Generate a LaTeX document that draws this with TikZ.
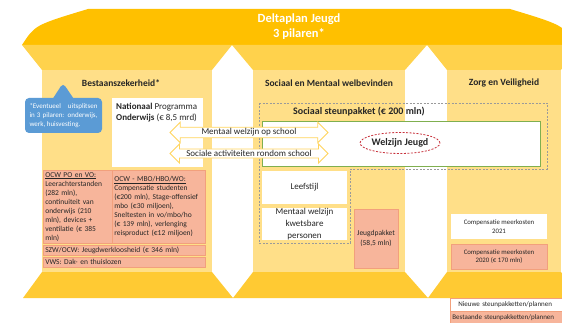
\documentclass[tikz,border=0pt]{standalone}
\usepackage{fontspec}
\setmainfont{Carlito}
\usetikzlibrary{shapes,shapes.arrows,shapes.callouts,shapes.geometric,positioning}
\definecolor{dak}{HTML}{FFC000}
\definecolor{balk}{HTML}{FFD24C}
\definecolor{zuil}{HTML}{FFDF88}
\definecolor{zuilrand}{HTML}{FFD45C}
\definecolor{voet}{HTML}{FFCA33}
\definecolor{zalm}{HTML}{F7B59B}
\definecolor{zalmrand}{HTML}{F2A07C}
\definecolor{blauw}{HTML}{5B9BD5}
\definecolor{groen}{HTML}{7FAF4F}
\definecolor{rood}{HTML}{C8323C}
\definecolor{grijs}{HTML}{9A9A9A}
\definecolor{tekst}{HTML}{262626}

\begin{document}
\begin{tikzpicture}[x=1pt,y=-1pt,
    titel/.style={font=\fontsize{12.5}{15}\selectfont\bfseries,text=white,align=center,inner sep=0pt},
    kop/.style={font=\fontsize{9.5}{11}\selectfont\bfseries,text=tekst,inner sep=0pt},
    ballon/.style={rectangle callout,fill=blauw,rounded corners=4pt,text=white,
        font=\fontsize{7}{9}\selectfont,align=justify,text width=68pt,minimum width=77pt,
        minimum height=35pt,inner sep=0pt,callout pointer width=20pt},
    vak/.style={fill=white,inner sep=0pt,text=tekst,align=center},
    bestaand/.style={fill=zalm,draw=zalmrand,line width=.6pt,inner sep=2pt,text=tekst,
        font=\fontsize{7.5}{9}\selectfont},
    pijl/.style={double arrow,double arrow head extend=5pt,fill=white,draw=zuilrand,
        line width=.8pt,inner xsep=0pt,inner ysep=1pt,font=\fontsize{9}{11}\selectfont,
        text=tekst,minimum height=158pt},
    stippel/.style={draw=grijs,dash pattern=on 2pt off 1.5pt,line width=.7pt},
    ovaal/.style={ellipse,draw=rood,dash pattern=on 2pt off 1.5pt,line width=.8pt,
        minimum width=75pt,minimum height=21pt,inner sep=0pt,
        font=\fontsize{10}{12}\selectfont\bfseries,text=tekst}]
  \useasboundingbox (0,0) rectangle (562,323);
  \begin{scope}
    \clip (0,0) rectangle (562,323);
    % dak, balk, zuilen en voet
    \fill[dak] (22,45) .. controls (35,25) .. (88,9) -- (510,9) .. controls (563,25) .. (576,45) -- cycle;
    \fill[balk] (22,45) -- (232,45) -- (212,70) -- (42,70) -- cycle;
    \fill[balk] (232,45) -- (427,45) -- (405,70) -- (253,70) -- cycle;
    \fill[balk] (427,45) -- (576,45) -- (561,70) -- (447,70) -- cycle;
    \fill[zuil] (42,70) rectangle (212,272);
    \fill[zuil] (253,70) rectangle (405,272);
    \fill[zuil] (447,70) rectangle (561,272);
    \fill[voet] (42,272) -- (212,272) -- (233,298) -- (23,298) -- cycle;
    \fill[voet] (253,272) -- (405,272) -- (428,298) -- (233,298) -- cycle;
    \fill[voet] (447,272) -- (561,272) -- (580,298) -- (428,298) -- cycle;

    \node[titel] (titel) at (299,27) {Deltaplan Jeugd\\3 pilaren*};
    \node[kop] (kopB) at (121,83) {Bestaanszekerheid*};
    \node[kop] (kopS) at (329,83) {Sociaal en Mentaal welbevinden};
    \node[kop] (kopZ) at (504,83) {Zorg en Veiligheid};

    % Bestaanszekerheid
    \node[ballon,callout absolute pointer={(63,83)}] (ballon) at (63.5,115.5)
        {*Eventueel uitsplitsen in 3 pilaren: onderwijs, werk, huisvesting.};
    \node[vak,anchor=north west,minimum width=91pt,minimum height=69pt] (npo) at (112,98) {};
    \node[anchor=north west,align=left,inner sep=0pt,text=tekst,font=\fontsize{9}{11}\selectfont,
        below right=5pt and 4pt of npo.north west] (npotekst)
        {\textbf{Nationaal} Programma\\\textbf{Onderwijs} (€ 8,5 mrd)};
    \node[bestaand,anchor=north west,minimum width=69pt,minimum height=73pt,text width=65pt,align=left]
        (ocwpo) at (43,170)
        {\underline{OCW PO en VO:}\\Leerachterstanden\\(282 mln),\\continuiteit van\\onderwijs (210\\mln), devices +\\ventilatie (€ 385\\mln)};
    \node[bestaand,anchor=north west,minimum width=93pt,minimum height=73pt,text width=89pt,align=left]
        (ocwmbo) at (112,170)
        {\underline{OCW - MBO/HBO/WO:}\\Compensatie studenten\\(€200 mln), Stage-offensief\\mbo (€30 miljoen),\\Sneltesten in vo/mbo/ho\\(€ 139 mln), verlenging\\reisproduct (€12 miljoen)};
    \node[bestaand,anchor=north west,minimum width=162pt,minimum height=10pt,inner ysep=0pt,
        text width=158pt,align=left] (szw) at (43,245) {SZW/OCW: Jeugdwerkloosheid (€ 346 mln)};
    \node[bestaand,anchor=north west,minimum width=162pt,minimum height=10pt,inner ysep=0pt,
        text width=158pt,align=left] (vws) at (43,257) {VWS: Dak- en thuislozen};

    % Sociaal en Mentaal welbevinden
    \draw[stippel] (259,103) -- (547,103) -- (547,169) -- (350,169) -- (350,243) -- (259,243) -- cycle;
    \node[font=\fontsize{10}{12}\selectfont\bfseries,text=tekst,inner sep=0pt] (steun) at (359,112)
        {Sociaal steunpakket (€ 200 mln)};
    \node[vak,draw=groen,line width=.8pt,anchor=north west,minimum width=278pt,minimum height=45pt]
        (welzijnvak) at (262,121) {};
    \node[ovaal] (welzijn) at (400,143) {Welzijn Jeugd};
    \node[pijl] (pijl1) at (249,132.5) {Mentaal welzijn op school};
    \node[pijl] (pijl2) at (249,153.5) {Sociale activiteiten rondom school};
    \node[vak,minimum width=85pt,minimum height=33pt,font=\fontsize{9}{11}\selectfont]
        (leefstijl) at (304.5,187.5) {Leefstijl};
    \node[vak,minimum width=85pt,minimum height=32pt,font=\fontsize{9}{12}\selectfont]
        (kwetsbaar) at (304.5,224) {Mentaal welzijn\\kwetsbare\\personen};
    \node[bestaand,minimum width=44pt,minimum height=59pt,inner sep=0pt,align=center,
        font=\fontsize{7.5}{10}\selectfont] (jeugd) at (376,238.5) {Jeugdpakket\\(58,5 mln)};

    % Zorg en Veiligheid
    \node[vak,minimum width=96pt,minimum height=25pt,font=\fontsize{6.8}{8.5}\selectfont]
        (komp21) at (499,226.5) {Compensatie meerkosten\\2021};
    \node[bestaand,minimum width=96pt,minimum height=25pt,inner sep=0pt,align=center,
        font=\fontsize{6.8}{8.5}\selectfont] (komp20) at (499,256.5) {Compensatie meerkosten\\2020 (€ 170 mln)};

    % legenda
    \node[vak,draw=zalmrand,line width=.5pt,anchor=north west,minimum width=180pt,minimum height=13pt,
        text width=170pt,inner xsep=8pt,align=left,font=\fontsize{7}{8}\selectfont]
        (nieuw) at (450,298) {Nieuwe steunpakketten/plannen};
    \node[bestaand,anchor=north west,minimum width=180pt,minimum height=12pt,inner ysep=0pt,
        text width=176pt,inner xsep=2pt,align=left,font=\fontsize{7}{8}\selectfont]
        (bestaand) at (450,311) {Bestaande steunpakketten/plannen};
  \end{scope}
\end{tikzpicture}
\end{document}
